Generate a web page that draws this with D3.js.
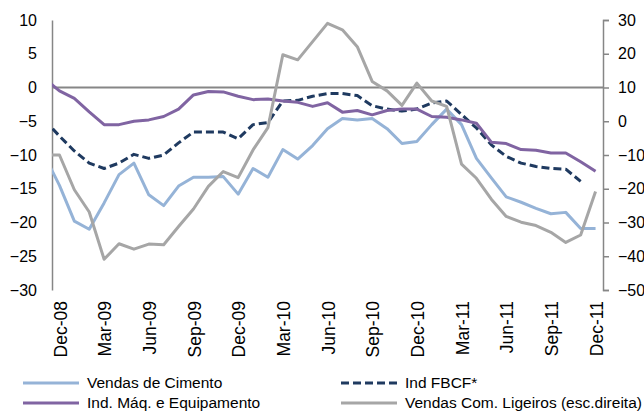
<!DOCTYPE html>
<html>
<head>
<meta charset="utf-8">
<script src="https://cdn.jsdelivr.net/npm/d3@7"></script>
<style>
  body { margin: 0; background: #fff; }
  svg { font-family: "Liberation Sans", Arial, sans-serif; }
</style>
</head>
<body>
<script>
// Dimensions
const width = 644;
const height = 412;
const plot = { left: 52, right: 603, top: 20, bottom: 290 };

// Months (Nov-08 only feeds the clipped stub at the left edge)
const months = ["Nov-08", "Dec-08", "Jan-09", "Feb-09", "Mar-09", "Apr-09", "May-09", "Jun-09", "Jul-09", "Aug-09",
  "Sep-09", "Oct-09", "Nov-09", "Dec-09", "Jan-10", "Feb-10", "Mar-10", "Apr-10", "May-10", "Jun-10",
  "Jul-10", "Aug-10", "Sep-10", "Oct-10", "Nov-10", "Dec-10", "Jan-11", "Feb-11", "Mar-11", "Apr-11",
  "May-11", "Jun-11", "Jul-11", "Aug-11", "Sep-11", "Oct-11", "Nov-11", "Dec-11"];
const tickMonths = ["Dec-08", "Mar-09", "Jun-09", "Sep-09", "Dec-09", "Mar-10", "Jun-10", "Sep-10",
  "Dec-10", "Mar-11", "Jun-11", "Sep-11", "Dec-11"];

// Séries (escala esquerda)
const cimento = [-10.1, -14.5, -19.8, -21.0, -17.1, -12.9, -11.2, -15.9, -17.5, -14.6, -13.3, -13.3, -13.2,
  -15.8, -12.0, -13.3, -9.2, -10.6, -8.6, -6.1, -4.6, -4.8, -4.6, -6.1, -8.3, -8.0, -5.5, -3.2, -5.5,
  -10.5, -13.4, -16.2, -17.0, -17.9, -18.7, -18.5, -20.9, -20.9];
const fbcf = [-4.8, -7.2, -9.4, -11.2, -12.0, -11.2, -9.9, -10.5, -10.0, -8.2, -6.6, -6.6, -6.6,
  -7.6, -5.5, -5.2, -2.0, -1.9, -1.3, -0.9, -0.9, -1.2, -2.7, -3.2, -3.5, -3.2, -2.3, -2.0, -4.0,
  -6.0, -8.5, -10.2, -11.2, -11.7, -12.0, -12.1, -13.9, null];
const maquinas = [1.3, -0.5, -1.6, -3.6, -5.5, -5.5, -5.0, -4.8, -4.3, -3.2, -1.1, -0.6, -0.65,
  -1.3, -1.8, -1.7, -2.0, -2.2, -2.8, -2.25, -3.65, -3.4, -4.05, -3.4, -3.2, -3.2, -4.3, -4.4, -4.8,
  -5.3, -8.1, -8.3, -9.2, -9.3, -9.7, -9.7, -11.0, -12.4];
// Série na escala direita
const ligeiros = [-10.0, -10.0, -20.3, -26.9, -40.9, -36.3, -37.9, -36.4, -36.6, -31.2, -26.0, -19.3, -14.9,
  -16.7, -8.5, -1.9, 19.7, 18.2, 23.6, 29.0, 27.1, 22.1, 11.8, 9.0, 4.7, 11.3, 6.0, 4.4, -12.7,
  -16.9, -23.1, -28.2, -29.9, -30.9, -32.9, -35.9, -33.7, -20.8];

const leftTicks = [10, 5, 0, -5, -10, -15, -20, -25, -30];
const rightTicks = [30, 20, 10, 0, -10, -20, -30, -40, -50];

const series = [
  { name: "Vendas de Cimento", values: cimento, axis: "left", color: "#95B3D7", dash: null },
  { name: "Ind FBCF*", values: fbcf, axis: "left", color: "#1F3A60", dash: "8,4" },
  { name: "Ind. Máq. e Equipamento", values: maquinas, axis: "left", color: "#8064A2", dash: null },
  { name: "Vendas Com. Ligeiros (esc.direita)", values: ligeiros, axis: "right", color: "#A6A6A6", dash: null }
];

const svg = d3.select("body").append("svg")
  .attr("width", width)
  .attr("height", height);

// Échelles
const step = (plot.right - plot.left) / 37;
const x = d3.scalePoint()
  .domain(months)
  .range([plot.left - step / 2, plot.right - step / 2]);

const yLeft = d3.scaleLinear().domain([-30, 10]).range([plot.bottom, plot.top]);
const yRight = d3.scaleLinear().domain([-50, 30]).range([plot.bottom, plot.top]);

svg.append("clipPath").attr("id", "plot-clip")
  .append("rect")
  .attr("x", plot.left)
  .attr("y", 0)
  .attr("width", plot.right - plot.left)
  .attr("height", height);

// Axe gauche
svg.append("g")
  .attr("transform", `translate(${plot.left},0)`)
  .call(d3.axisLeft(yLeft).tickValues(leftTicks).tickSize(0).tickPadding(15).tickFormat(d3.format("d")))
  .call(g => g.select(".domain").attr("stroke", "#868686").attr("stroke-width", 1.5))
  .call(g => g.selectAll("text").attr("font-size", 16).attr("fill", "#000"));

// Axe droit
svg.append("g")
  .attr("transform", `translate(${plot.right},0)`)
  .call(d3.axisRight(yRight).tickValues(rightTicks).tickSize(6).tickPadding(9).tickFormat(d3.format("d")))
  .call(g => g.select(".domain").attr("stroke", "#868686").attr("stroke-width", 1.5))
  .call(g => g.selectAll(".tick line").attr("stroke", "#868686").attr("stroke-width", 1.5))
  .call(g => g.selectAll("text").attr("font-size", 16).attr("fill", "#000"));

// Ligne du zéro (axe des catégories)
svg.append("line")
  .attr("x1", plot.left)
  .attr("x2", plot.right)
  .attr("y1", yLeft(0))
  .attr("y2", yLeft(0))
  .attr("stroke", "#868686")
  .attr("stroke-width", 2);

// Étiquettes des mois
svg.append("g")
  .selectAll("text")
  .data(tickMonths)
  .join("text")
  .attr("transform", d => `translate(${x(d) + 1},${plot.bottom + 11}) rotate(-90)`)
  .attr("text-anchor", "end")
  .attr("dy", "0.35em")
  .attr("font-size", 17.5)
  .attr("fill", "#000")
  .text(d => d);

// Courbes
const lines = svg.append("g").attr("clip-path", "url(#plot-clip)");
series.forEach(s => {
  const yScale = s.axis === "left" ? yLeft : yRight;
  const line = d3.line()
    .defined(d => d != null)
    .x((d, i) => x(months[i]))
    .y(d => yScale(d));
  lines.append("path")
    .datum(s.values)
    .attr("fill", "none")
    .attr("stroke", s.color)
    .attr("stroke-width", 3)
    .attr("stroke-linejoin", "round")
    .attr("stroke-dasharray", s.dash)
    .attr("d", line);
});

// Légende
const legendPos = [
  { x: 23, y: 383 }, { x: 341, y: 383 },
  { x: 23, y: 403 }, { x: 341, y: 403 }
];
const legend = svg.append("g")
  .selectAll("g")
  .data(series)
  .join("g")
  .attr("transform", (d, i) => `translate(${legendPos[i].x},${legendPos[i].y})`);

legend.append("line")
  .attr("x1", 0).attr("x2", 56)
  .attr("stroke", d => d.color)
  .attr("stroke-width", 3)
  .attr("stroke-dasharray", d => d.dash);

legend.append("text")
  .attr("x", 64)
  .attr("dy", "0.35em")
  .attr("font-size", 15.5)
  .attr("fill", "#000")
  .text(d => d.name);
</script>
</body>
</html>
